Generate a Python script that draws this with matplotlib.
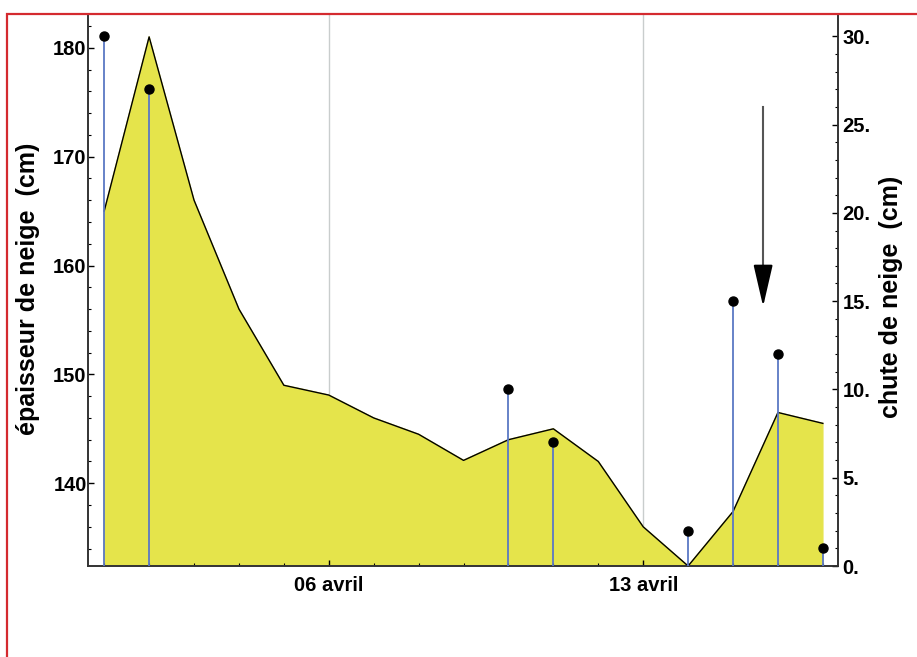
import numpy as np
import matplotlib
matplotlib.use("Agg")
import matplotlib.pyplot as plt
from matplotlib.patches import Rectangle

plt.rcParams['font.family'] = ['Liberation Sans', 'DejaVu Sans']
plt.rcParams['font.weight'] = 'bold'

# days of April
days = [1, 2, 3, 4, 5, 6, 7, 8, 9, 10, 11, 12, 13, 14, 15, 16, 17]
depth = [165.0, 181.0, 166.0, 156.0, 149.0, 148.1, 146.0, 144.5, 142.1,
         144.0, 145.0, 142.0, 136.0, 132.4, 137.4, 146.5, 145.5]

fall_days = [1, 2, 10, 11, 14, 15, 16, 17]
fall_cm = [30, 27, 10, 7, 2, 15, 12, 1]

label_days = [6, 13]
label_text = ['06 avril', '13 avril']

fig = plt.figure(figsize=(9.17, 6.57), dpi=100)
ax = fig.add_axes([0.096, 0.1385, 0.818, 0.8385])

# vertical grid lines at labelled days
for d in label_days:
    ax.axvline(d, color='#c9cdcd', lw=1.0, zorder=0)

ax.fill_between(days, depth, 0, color='#e5e44b', zorder=1)
ax.plot(days, depth, color='black', lw=1.0, zorder=2)

ax.set_xlim(0.64, 17.34)
ax.set_ylim(132.4, 183.0)
ax.set_yticks([140, 150, 160, 170, 180])
ax.set_yticks(np.arange(134, 183, 2), minor=True)
ax.set_xticks(label_days)
ax.set_xticklabels(label_text)
ax.set_xticks(days, minor=True)

ax2 = ax.twinx()
ax2.set_ylim(0, 31.2)
ax2.vlines(fall_days, 0, fall_cm, color='#5b78c4', lw=1.3, zorder=3)
ax2.plot(fall_days, fall_cm, 'o', color='black', ms=6.5, zorder=4)
ax2.set_yticks([0, 5, 10, 15, 20, 25, 30])
ax2.set_yticklabels(['%d.' % v for v in [0, 5, 10, 15, 20, 25, 30]])
ax2.set_yticks(np.arange(0, 31, 1), minor=True)

# arrow: grey shaft, black head
ax2.plot([15.67, 15.67], [26.0, 16.0], color='#555555', lw=1.5, zorder=5)
ax2.annotate('', xy=(15.67, 14.7), xytext=(15.67, 17.0),
             arrowprops=dict(arrowstyle='-|>,head_length=1.3,head_width=0.3',
                             mutation_scale=20, color='black', lw=1.5,
                             shrinkA=0, shrinkB=0), zorder=6)

for a in (ax, ax2):
    a.spines['top'].set_visible(False)
    for s in a.spines.values():
        s.set_color('#333333')
        s.set_linewidth(1.2)
    a.tick_params(which='major', direction='in', length=4, width=1, labelsize=14.5)
    a.tick_params(which='minor', direction='in', length=2.5, width=0.8)

ax.tick_params(axis='y', pad=1)
ax.tick_params(axis='x', pad=7)
ax2.tick_params(axis='y', pad=3)

fig.text(0.031, 0.561, 'épaisseur de neige  (cm)', rotation=90,
         ha='center', va='center', fontsize=18)
fig.text(0.9717, 0.548, 'chute de neige  (cm)', rotation=90,
         ha='center', va='center', fontsize=18)

# red frame
fig.patches.append(Rectangle((0.0076, -0.05), 1.1, 1.0286, transform=fig.transFigure,
                             fill=False, edgecolor='#d42a2f', lw=1.6))

fig.savefig('out.png', dpi=100)
